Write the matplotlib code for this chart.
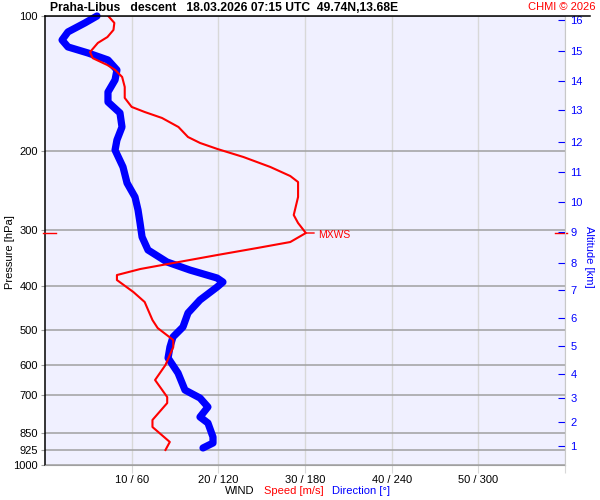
import matplotlib
matplotlib.use("Agg")
import matplotlib.pyplot as plt
import matplotlib.transforms as mtransforms
from matplotlib.lines import Line2D
from matplotlib.ticker import NullLocator, FixedLocator, FixedFormatter
import numpy as np

plt.rcParams['font.family'] = ['Liberation Sans', 'DejaVu Sans']

# wind speed profile (pressure hPa, speed m/s)
speed_p = [100.0, 103.6, 107.4, 111.4, 114.8, 120.3, 124.1, 128.6, 131.9, 136.7,
           143.9, 152.2, 159.4, 163.6, 168.7, 176.7, 186.0, 191.8, 197.8, 206.1,
           216.9, 227.2, 234.3, 253.0, 277.5, 289.1, 304.3, 318.7, 328.6, 340.6,
           354.9, 366.0, 377.5, 387.3, 411.9, 433.5, 475.5, 495.4, 526.8, 546.1,
           598.8, 646.7, 705.8, 727.8, 793.8, 823.0, 888.6, 925.9]
speed = [7.3, 8.0, 7.9, 7.2, 6.1, 5.2, 5.5, 7.2, 8.1, 8.9,
         9.2, 9.2, 10.0, 11.5, 13.5, 15.4, 16.5, 17.9, 19.9, 22.9,
         26.0, 28.3, 29.2, 29.2, 28.7, 29.2, 30.1, 28.3, 24.5, 19.9,
         14.8, 11.0, 8.3, 8.3, 10.2, 11.5, 12.4, 13.0, 14.8, 14.8,
         13.9, 12.7, 14.1, 14.1, 12.4, 12.4, 14.4, 13.9]

# wind direction profile (pressure hPa, direction deg)
dir_p = [100.0, 103.6, 108.5, 113.1, 117.2, 120.9, 125.3, 131.9, 138.8, 147.7,
         155.4, 164.4, 176.7, 188.9, 198.9, 216.9, 235.5, 253.0, 270.4, 289.1,
         310.6, 332.0, 353.1, 368.0, 383.3, 391.3, 401.5, 429.0, 458.6, 492.8,
         518.7, 546.1, 577.7, 624.0, 680.8, 709.2, 742.6, 781.8, 806.3, 866.2,
         893.3, 916.3]
direction = [36.0, 27.7, 15.9, 11.8, 15.9, 29.8, 43.6, 49.8, 48.5, 43.6,
             43.6, 51.9, 53.3, 49.8, 48.5, 54.0, 56.8, 62.3, 64.4, 65.8,
             67.2, 71.3, 84.5, 100.4, 119.1, 123.2, 119.1, 107.3, 99.0, 95.5,
             88.6, 86.5, 85.2, 92.1, 96.9, 107.3, 112.8, 107.3, 112.8, 116.3,
             116.3, 109.4]

p_ticks = [100, 200, 300, 400, 500, 600, 700, 850, 925, 1000]
alt_km = list(range(1, 17))
alt_p = [907.6, 802, 709, 627, 543.4, 470.6, 407.6, 354.6, 302.7, 259.3,
         222.3, 190.8, 161.9, 139.4, 119.5, 102.0]
dir_ticks = [60, 120, 180, 240, 300, 360]
wind_labels = ['10 / 60', '20 / 120', '30 / 180', '40 / 240', '50 / 300', '']

fig = plt.figure(figsize=(6, 5), dpi=100)
fig.patch.set_facecolor('white')
ax = fig.add_axes([45 / 600, 1 - 465 / 500, 520 / 600, 449 / 500])
ax.set_facecolor('#F0F0FF')

# direction (bottom layer)
ax.plot(direction, dir_p, color='#0000FF', lw=5.2, solid_capstyle='round', clip_on=False, zorder=3)
ax.set_yscale('log')
ax.set_ylim(1000, 100)
ax.set_xlim(0, 360)
ax.set_xticks(dir_ticks)
ax.set_xticklabels(wind_labels)
ax.tick_params(axis='x', length=6, color='#D8D8D8', labelsize=8, pad=1)
ax.grid(axis='x', color='#D8D8D8', lw=1.0)
ax.set_axisbelow(True)
ax.set_ylabel('Pressure [hPa]', fontsize=8, va='center')
ax.yaxis.set_label_coords(-0.068, 0.474)
for s in ['top', 'right']:
    ax.spines[s].set_visible(False)
ax.spines['bottom'].set_color('#A0A0A0')
ax.spines['left'].set_color('black')
ax.spines['left'].set_linewidth(1.1)

# speed on top
axs = ax.twiny()
axs.patch.set_visible(False)
axs.plot(speed, speed_p, color='#FF0000', lw=1.5, zorder=4)
axs.set_xlim(0, 60)
axs.set_xticks([])
for s in axs.spines.values():
    s.set_visible(False)

# pressure ticks (after twinning so they are not reset)
ax.yaxis.set_major_locator(FixedLocator(p_ticks))
ax.yaxis.set_major_formatter(FixedFormatter([str(p) for p in p_ticks]))
ax.yaxis.set_minor_locator(NullLocator())
ax.tick_params(axis='y', length=3, color='#A0A0A0', labelsize=8, pad=2)
ax.grid(axis='y', which='major', color='#A0A0A0', lw=1.1)
ax.set_ylim(1000, 100)

# max wind marker
i = int(np.argmax(speed))
mp, mv = speed_p[i], speed[i]
tr = mtransforms.blended_transform_factory(axs.transAxes, axs.transData)
axs.add_line(Line2D([-0.004, 0.021], [mp, mp], transform=tr, color='#FF0000', lw=1, clip_on=False))
axs.add_line(Line2D([0.981, 1.004], [mp, mp], transform=tr, color='#FF0000', lw=1, clip_on=False))
axs.annotate('', xy=(mv, mp), xytext=(6, 0), textcoords='offset points',
             arrowprops=dict(arrowstyle='-', color='#FF0000', lw=1, shrinkA=0, shrinkB=0))
axs.annotate('MXWS', xy=(mv, mp), xytext=(9, -1.5), textcoords='offset points',
             color='#FF0000', fontsize=7.5, va='center', ha='left')

# altitude axis
axr = ax.twinx()
axr.set_yscale('log')
axr.set_ylim(1000, 100)
axr.yaxis.set_minor_locator(NullLocator())
axr.yaxis.set_major_locator(FixedLocator(alt_p))
axr.yaxis.set_major_formatter(FixedFormatter([str(a) for a in alt_km]))
axr.tick_params(axis='y', direction='in', length=5, color='#0000FF', labelcolor='#0000FF',
                labelsize=8, pad=4)
axr.set_ylabel('Altitude [km]', color='#0000FF', fontsize=8, rotation=270, va='center')
axr.yaxis.set_label_coords(1.046, 0.463)
for s in ['top', 'left', 'bottom']:
    axr.spines[s].set_visible(False)
axr.spines['right'].set_color('#C8C8C8')

# top line and titles
fig.add_artist(Line2D([45 / 600, 590 / 600], [1 - 16 / 500] * 2, color='black', lw=1.1))
fig.text(50 / 600, 1 - 8 / 500, 'Praha-Libus   descent   18.03.2026 07:15 UTC  49.74N,13.68E',
         fontsize=8.7, fontweight='bold', va='center', ha='left')
fig.text(596 / 600, 1 - 7 / 500, 'CHMI © 2026', fontsize=8, color='#FF0000', va='center', ha='right')

fig.text(225 / 600, 1 - 491 / 500, 'WIND', fontsize=8, va='center', ha='left')
fig.text(264 / 600, 1 - 491 / 500, 'Speed [m/s]', fontsize=8, color='#FF0000', va='center', ha='left')
fig.text(332 / 600, 1 - 491 / 500, 'Direction [°]', fontsize=8, color='#0000FF', va='center', ha='left')

fig.savefig('out.png', dpi=100)
